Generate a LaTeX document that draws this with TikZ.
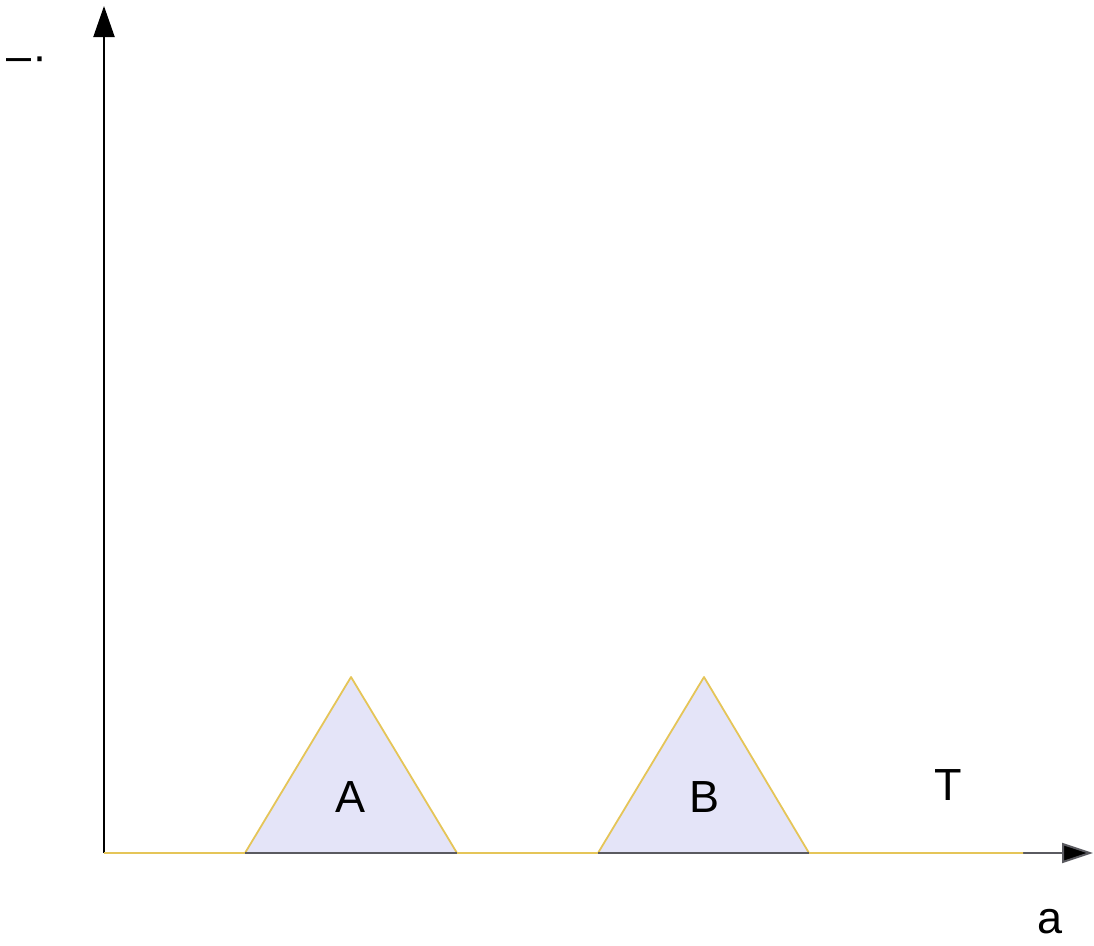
\documentclass[tikz,border=0pt]{standalone}
\usepackage{fontspec}
\setmainfont{Liberation Sans}
\usetikzlibrary{arrows.meta}
\definecolor{curvecol}{HTML}{E5C558}
\definecolor{peakfill}{HTML}{E4E4F8}
\definecolor{axiscol}{HTML}{5A5A60}
\tikzset{
  lbl/.style={font=\fontsize{45}{52}\selectfont, inner sep=0pt},
  peak/.style={fill=peakfill, draw=curvecol, line width=1.8pt, line join=round},
}

\begin{document}
\begin{tikzpicture}[x=1pt,y=-1pt]
        \useasboundingbox (0,0) rectangle (1094,945);
        \coordinate (O) at (104,853);
        \coordinate (xend) at (1093,853);
        \coordinate (yend) at (104,6);
        % axes
        \draw[line width=2pt, -{Triangle[length=31pt,width=21pt]}] (O) -- (yend);
        \draw[axiscol, line width=2pt, -{Triangle[length=31pt,width=20pt,fill=black]}] (O) -- (xend);
        % two peaks
        \coordinate (a1) at (245,853); \coordinate (a2) at (351,677); \coordinate (a3) at (457,853);
        \coordinate (b1) at (598,853); \coordinate (b2) at (704,677); \coordinate (b3) at (809,853);
        \fill[peakfill] (a1) -- (a2) -- (a3) -- cycle;
        \fill[peakfill] (b1) -- (b2) -- (b3) -- cycle;
        \coordinate (cend) at (1023,853);
        \draw[curvecol, line width=1.8pt, line join=round] (O) -- (a1) -- (a2) -- (a3) -- (b1) -- (b2) -- (b3) -- (cend);
        \draw[axiscol, line width=2pt] (a1) -- (a3);
        \draw[axiscol, line width=2pt] (b1) -- (b3);
        % labels
        \node[lbl] (labA) at (351,797) {A};
        \node[lbl] (labB) at (704,797) {B};
        \node[lbl] (labT) at (948,785) {T};
        \node[lbl] (laba) at (1050,922) {a};
        \node[lbl] (laby) at (27,64) {–·};
      \end{tikzpicture}
\end{document}
